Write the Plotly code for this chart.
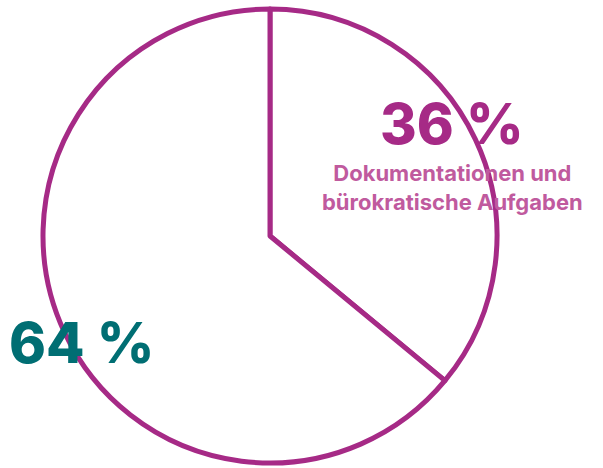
import plotly.graph_objects as go

labels = ["Dokumentationen und bürokratische Aufgaben", "Sonstiges"]
values = [36, 64]
pct_labels = ["36 %", "64 %"]

W, H = 603, 468
cx, cy, r = 270, 236, 227  # pixel geometry of pie
purple = "#A62A86"
pink = "#C05A9E"
teal = "#006E73"

fig = go.Figure(go.Pie(
    labels=labels, values=values, sort=False, direction="clockwise", rotation=0,
    marker=dict(colors=["white", "white"], line=dict(color=purple, width=5)),
    textinfo="none", hoverinfo="label+percent", showlegend=False,
    domain=dict(x=[(cx - r) / W, (cx + r) / W],
                y=[(H - cy - r) / H, (H - cy + r) / H]),
))

def ann(x, y, text, size, color, weight):
    fig.add_annotation(x=x / W, y=1 - y / H, xref="paper", yref="paper",
                       xanchor="center", yanchor="middle",
                       text=text, showarrow=False,
                       font=dict(family="Inter", size=size, color=color, weight=weight))

ann(452, 124, pct_labels[0], 56, purple, 800)
ann(452, 187, "Dokumentationen und<br>bürokratische Aufgaben", 22, pink, 700)
ann(82, 343, pct_labels[1], 56, teal, 800)

fig.update_layout(width=W, height=H, margin=dict(l=0, r=0, t=0, b=0),
                  paper_bgcolor="white", plot_bgcolor="white")
fig.write_html("out.html", config={"displayModeBar": False},
               post_script="document.body.style.margin='0';document.body.style.overflow='hidden';")
